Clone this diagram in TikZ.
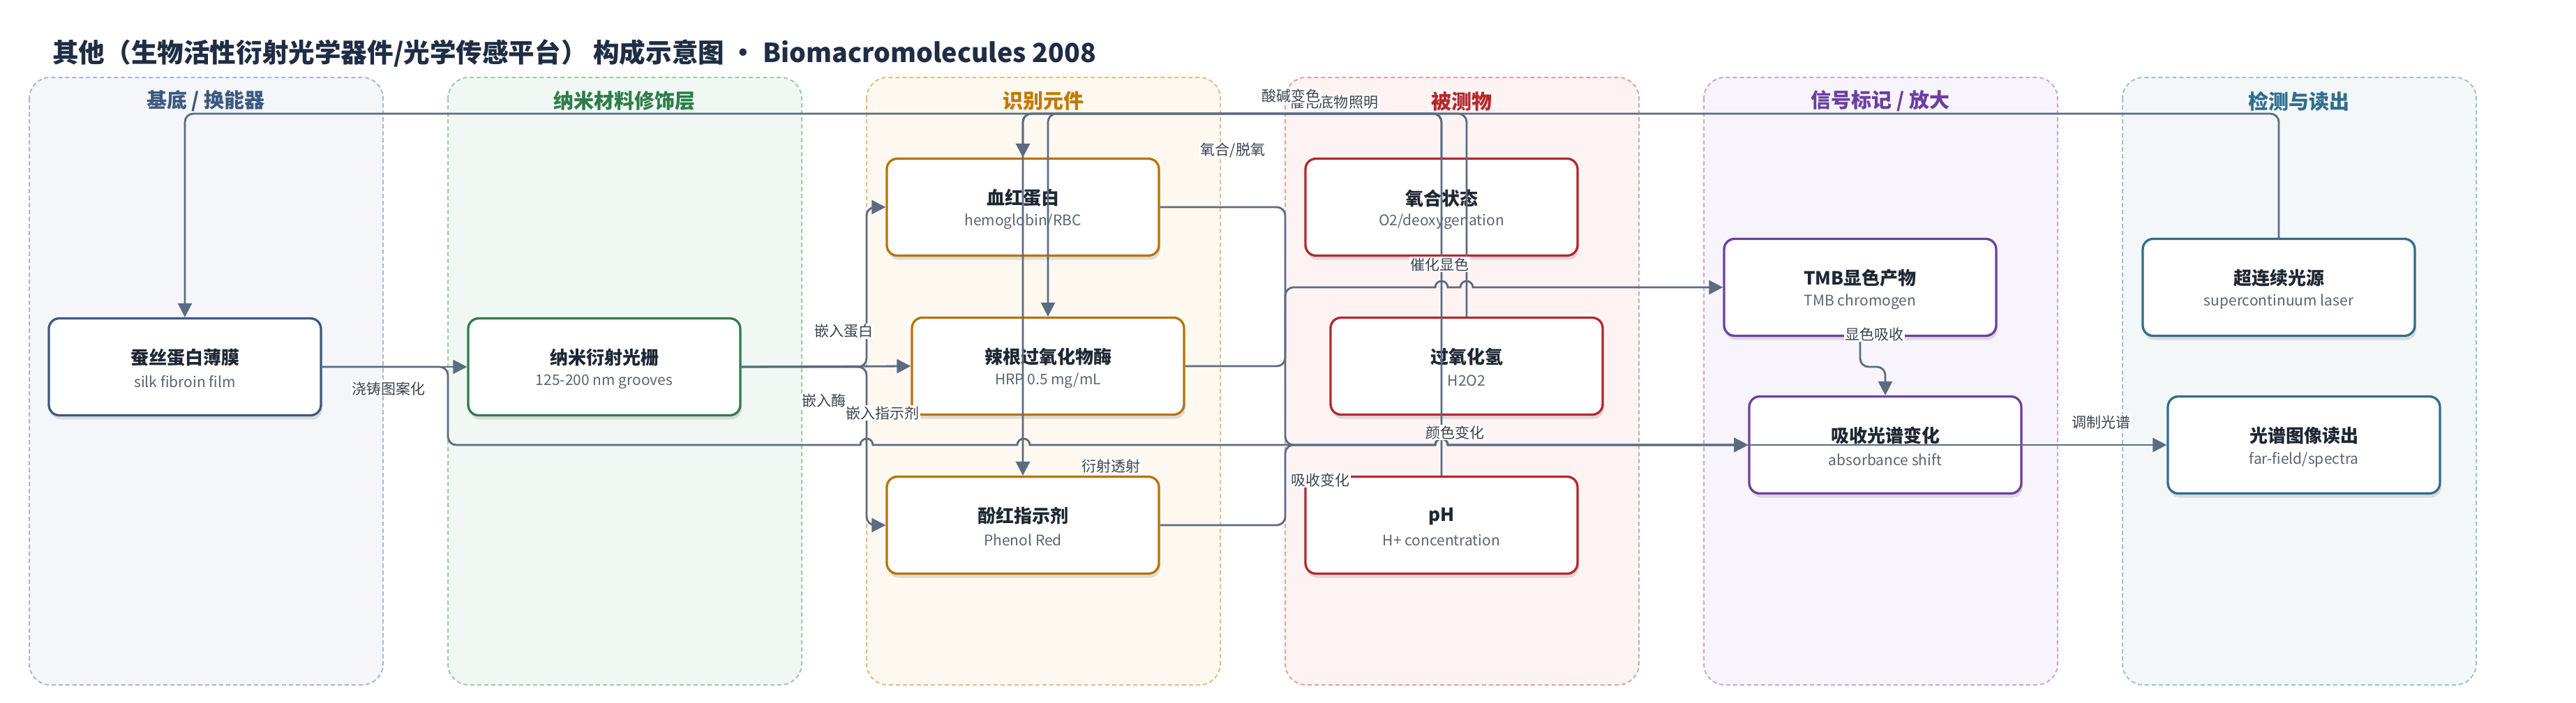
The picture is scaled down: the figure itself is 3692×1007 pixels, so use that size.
\documentclass[tikz,border=0pt]{standalone}
\usepackage{fontspec}
\setmainfont{Noto Sans CJK SC}
\usetikzlibrary{arrows.meta,shadows}
\definecolor{titlec}{HTML}{1F2D45}
\definecolor{ec}{HTML}{5B6B80}
\definecolor{lblc}{HTML}{3B4350}
\definecolor{ttlc}{HTML}{1E2733}
\definecolor{subc}{HTML}{5B6472}
\definecolor{ca}{HTML}{3D5A80}\definecolor{fa}{HTML}{F4F6FA}\definecolor{ba}{HTML}{A9B8CF}
\definecolor{cb}{HTML}{2E7D4A}\definecolor{fb}{HTML}{F1F8F3}\definecolor{bb}{HTML}{9FCAAA}
\definecolor{cc}{HTML}{B8730A}\definecolor{fc}{HTML}{FDF8F0}\definecolor{bc}{HTML}{E6BF85}
\definecolor{hc}{HTML}{C17A00}
\definecolor{cd}{HTML}{B3282D}\definecolor{fd}{HTML}{FDF3F3}\definecolor{bd}{HTML}{E8A0A0}
\definecolor{ce}{HTML}{6B3FA0}\definecolor{fe}{HTML}{F7F4FB}\definecolor{be}{HTML}{C4AADE}
\definecolor{cf}{HTML}{2F6E8C}\definecolor{ff}{HTML}{F3F7F8}\definecolor{bf}{HTML}{A3C2CC}
\newcommand\mybox[7]{%
  \node[nbox,draw=#4] (#1) at (#2,#3) {};
  \node[ttl] (#1t) at ([yshift=13pt]#1.center) {#5};
  \node[sbt] (#1s) at ([yshift=-21pt]#1.center) {#6#7};
}
\begin{document}
\begin{tikzpicture}[x=1pt,y=-1pt,
  lane/.style={line width=2pt,dash pattern=on 6pt off 4pt,rounded corners=30pt},
  hdr/.style={font=\fontsize{29}{32}\selectfont\bfseries,inner sep=0pt},
  nbox/.style={line width=3.3pt,rounded corners=15pt,fill=white,minimum width=390pt,minimum height=139pt,
    drop shadow={shadow xshift=2pt,shadow yshift=-6pt,opacity=0.16,fill=black!70}},
  ttl/.style={font=\fontsize{26}{28}\selectfont\bfseries,text=ttlc,inner sep=0pt},
  sbt/.style={font=\fontsize{21}{24}\selectfont,text=subc,inner sep=0pt},
  conn/.style={draw=ec,line width=2.8pt,rounded corners=12pt},
  arr/.style={-{Triangle[length=20pt,width=20pt]}},
  lbl/.style={fill=white,inner sep=1.5pt,font=\fontsize{21}{23}\selectfont,text=lblc}]
\useasboundingbox (0,0) rectangle (3692,1007);
\fill[white] (0,0) rectangle (3692,1007);
% title
\node[anchor=west,inner sep=0pt,text=titlec,font=\fontsize{37.6}{40}\selectfont\bfseries] (title) at (75,76)
  {其他（生物活性衍射光学器件/光学传感平台） 构成示意图 · Biomacromolecules 2008};
% lanes
\draw[lane,fill=fa,draw=ba] (42,111) rectangle (549,982);
\draw[lane,fill=fb,draw=bb] (642,111) rectangle (1149,982);
\draw[lane,fill=fc,draw=bc] (1242,111) rectangle (1749,982);
\draw[lane,fill=fd,draw=bd] (1842,111) rectangle (2349,982);
\draw[lane,fill=fe,draw=be] (2442,111) rectangle (2949,982);
\draw[lane,fill=ff,draw=bf] (3042,111) rectangle (3549,982);
\node[hdr,text=ca] (h1) at (295,145) {基底 / 换能器};
\node[hdr,text=cb] (h2) at (895,145) {纳米材料修饰层};
\node[hdr,text=hc] (h3) at (1495,145) {识别元件};
\node[hdr,text=cd] (h4) at (2095,145) {被测物};
\node[hdr,text=ce] (h5) at (2695,145) {信号标记 / 放大};
\node[hdr,text=cf] (h6) at (3295,145) {检测与读出};
% boxes
\mybox{silk}{265}{526}{ca}{蚕丝蛋白薄膜}{silk fibroin film}{}
\mybox{grat}{866}{526}{cb}{纳米衍射光栅}{125-200 nm grooves}{}
\mybox{hemo}{1466}{297}{cc}{血红蛋白}{hemoglobin/RBC}{}
\mybox{hrp}{1502}{525}{cc}{辣根过氧化物酶}{HRP 0.5 mg/mL}{}
\mybox{phen}{1466}{753}{cc}{酚红指示剂}{Phenol Red}{}
\mybox{oxy}{2066}{297}{cd}{氧合状态}{O2/deoxygenation}{}
\mybox{hoo}{2102}{525}{cd}{过氧化氢}{H2O2}{}
\mybox{ph}{2066}{753}{cd}{pH}{H+ concentration}{}
\mybox{tmb}{2666}{412}{ce}{TMB显色产物}{TMB chromogen}{}
\mybox{abs}{2702}{638}{ce}{吸收光谱变化}{absorbance shift}{}
\mybox{laser}{3266}{412}{cf}{超连续光源}{supercontinuum laser}{}
\mybox{read}{3302}{638}{cf}{光谱图像读出}{far-field/spectra}{}
% connectors
\draw[conn,arr] (silk.east) -- (grat.west);
\draw[conn,arr] (silk.east) -- (642,526) -- (642,638) -- (700,638) [sharp corners] -- (1233,638)
  arc[start angle=180,end angle=360,radius=9] -- (1458,638)
  arc[start angle=180,end angle=360,radius=9] -- (2057,638)
  arc[start angle=180,end angle=360,radius=9] -- (abs.west);
\draw[conn,arr] (grat.east) -- (1242,526) -- (1242,297) -- (hemo.west);
\draw[conn,arr] (grat.east) -- (hrp.west);
\draw[conn,arr] (grat.east) -- (1242,526) -- (1242,753) -- (phen.west);
\draw[conn,arr] (hemo.east) -- (1842,297) -- (1842,638) -- (1900,638) [sharp corners] -- (2057,638)
  arc[start angle=180,end angle=360,radius=9] -- (abs.west);
\draw[conn,arr] (phen.east) -- (1842,753) -- (1842,638) -- (1900,638) [sharp corners] -- (2057,638)
  arc[start angle=180,end angle=360,radius=9] -- (abs.west);
\draw[conn,arr] (hrp.east) -- (1842,525) -- (1842,412) -- (1900,412) [sharp corners] -- (2057,412)
  arc[start angle=180,end angle=360,radius=9] -- (2093,412)
  arc[start angle=180,end angle=360,radius=9] -- (tmb.west);
\draw[conn,arr] (tmb.south) -- (2666,526) -- (2702,526) -- (abs.north);
\draw[conn,arr] (abs.west) -- (read.west);
\draw[conn,arr] (laser.north) -- (3266,163) -- (265,163) -- (silk.north);
\draw[conn,arr] (oxy.north) -- (2066,163) -- (1466,163) -- (hemo.north);
\draw[conn,arr] (hoo.north) -- (2102,163) -- (1502,163) -- (hrp.north);
\draw[conn,arr] (ph.north) -- (2066,163) -- (1466,163) -- (phen.north);
% labels
\node[lbl] (l1) at (557,557) {浇铸图案化};
\node[lbl] (l2) at (1209,475) {嵌入蛋白};
\node[lbl] (l3) at (1181,575) {嵌入酶};
\node[lbl] (l4) at (1265,592) {嵌入指示剂};
\node[lbl] (l5) at (1592,669) {衍射透射};
\node[lbl] (l6) at (1767,216) {氧合/脱氧};
\node[lbl] (l7) at (1890,147) {催化底物};
\node[lbl] (l8) at (1954,147) {照明};
\node[lbl] (l9) at (1850,137) {酸碱变色};
\node[lbl] (l10) at (2063,379) {催化显色};
\node[lbl] (l11) at (2085,620) {颜色变化};
\node[lbl] (l12) at (1892,688) {吸收变化};
\node[lbl] (l13) at (2686,479) {显色吸收};
\node[lbl] (l14) at (3011,605) {调制光谱};
\end{tikzpicture}
\end{document}
